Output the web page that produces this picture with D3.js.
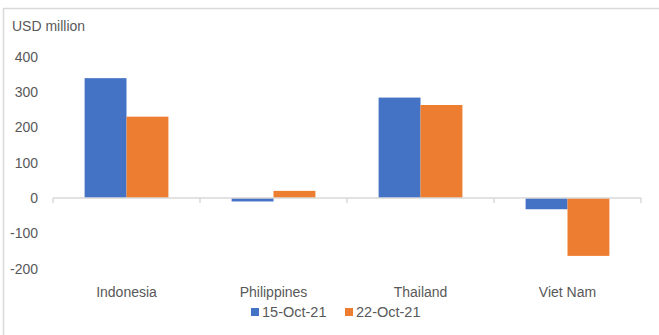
<!DOCTYPE html>
<html>
<head>
  <meta charset="UTF-8">
  <script src="https://d3js.org/d3.v7.min.js"></script>
  <title>Net flows</title>
  <style>
    body { margin: 0; background: #fff; font-family: "Liberation Sans", Arial, sans-serif; }
    svg text { fill: #595959; }
  </style>
</head>
<body>
  <svg width="659" height="335"></svg>
  <script>
    // chart data
    const countries = ["Indonesia", "Philippines", "Thailand", "Viet Nam"];
    const seriesNames = ["15-Oct-21", "22-Oct-21"];
    const oct15 = [339, -10, 284, -32];
    const oct22 = [230, 20, 263, -164];
    const yTicks = [-200, -100, 0, 100, 200, 300, 400];
    const colors = ["#4472C4", "#ED7D31"];

    const svg = d3.select("svg");

    // frame (top and left edges visible)
    svg.append("line").attr("x1", 3).attr("x2", 659).attr("y1", 8.5).attr("y2", 8.5)
      .attr("stroke", "#d9d9d9").attr("stroke-width", 1.5);
    svg.append("line").attr("x1", 3.5).attr("x2", 3.5).attr("y1", 8).attr("y2", 335)
      .attr("stroke", "#d9d9d9").attr("stroke-width", 1.5);

    const x0 = d3.scaleBand().domain(countries).range([53, 641]).paddingInner(0.43).paddingOuter(0.215);
    const x1 = d3.scaleBand().domain(seriesNames).range([0, x0.bandwidth()]);
    const y = d3.scaleLinear().domain([-200, 400]).range([268.6, 56.6]);

    // y tick labels
    svg.append("g").selectAll("text").data(yTicks).enter().append("text")
      .attr("x", 38).attr("y", d => y(d)).attr("dy", "0.35em")
      .attr("text-anchor", "end").attr("font-size", 14)
      .text(d => d);

    svg.append("text").attr("x", 12).attr("y", 31).attr("font-size", 14).text("USD million");

    // bars
    const rows = countries.map((c, i) => ({ c, vals: [oct15[i], oct22[i]] }));
    const g = svg.append("g").selectAll("g").data(rows).enter().append("g")
      .attr("transform", d => `translate(${x0(d.c)},0)`);
    g.selectAll("rect").data(d => d.vals.map((v, j) => ({ v, s: seriesNames[j], j }))).enter().append("rect")
      .attr("x", d => x1(d.s)).attr("width", x1.bandwidth())
      .attr("y", d => y(Math.max(0, d.v))).attr("height", d => Math.abs(y(d.v) - y(0)))
      .attr("fill", d => colors[d.j]);

    // category axis at zero
    const stepW = (641 - 53) / countries.length;
    svg.append("line").attr("x1", 53).attr("x2", 641).attr("y1", y(0)).attr("y2", y(0))
      .attr("stroke", "#d9d9d9").attr("stroke-width", 1.5);
    svg.append("g").selectAll("line").data(d3.range(countries.length + 1)).enter().append("line")
      .attr("x1", i => 53 + i * stepW).attr("x2", i => 53 + i * stepW)
      .attr("y1", y(0)).attr("y2", y(0) + 5)
      .attr("stroke", "#d9d9d9").attr("stroke-width", 1.5);

    svg.append("g").selectAll("text").data(countries).enter().append("text")
      .attr("x", d => x0(d) + x0.bandwidth() / 2).attr("y", 292).attr("dy", "0.35em")
      .attr("text-anchor", "middle").attr("font-size", 14).text(d => d);

    // legend
    const legX = [251, 345];
    const leg = svg.append("g").selectAll("g").data(seriesNames).enter().append("g")
      .attr("transform", (d, i) => `translate(${legX[i]},308)`);
    leg.append("rect").attr("width", 8).attr("height", 8).attr("fill", (d, i) => colors[i]);
    leg.append("text").attr("x", 11).attr("y", 4).attr("dy", "0.35em").attr("font-size", 14.5).text(d => d);
  </script>
</body>
</html>
